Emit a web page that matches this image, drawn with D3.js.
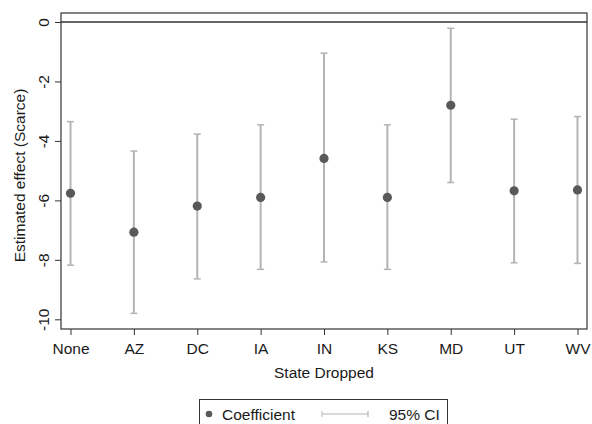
<!DOCTYPE html>
<html>
<head>
<meta charset="utf-8">
<script src="https://cdn.jsdelivr.net/npm/d3@7"></script>
<style>
  html, body { margin: 0; padding: 0; background: #fff; }
  svg { display: block; font-family: "Liberation Sans", Arial, sans-serif; }
</style>
</head>
<body>
<svg id="chart" width="592" height="424"></svg>
<script>
const categories = ["None", "AZ", "DC", "IA", "IN", "KS", "MD", "UT", "WV"];
const coefficients = [-5.76, -7.07, -6.19, -5.90, -4.59, -5.90, -2.80, -5.68, -5.65];
const ciLower = [-8.18, -9.80, -8.64, -8.32, -8.07, -8.32, -5.40, -8.10, -8.12];
const ciUpper = [-3.35, -4.34, -3.77, -3.46, -1.05, -3.46, -0.21, -3.27, -3.18];
const yTicks = [0, -2, -4, -6, -8, -10];

const data = categories.map((c, i) => ({ c, v: coefficients[i], lo: ciLower[i], hi: ciUpper[i] }));

const svg = d3.select("#chart");
const mLeft = 61, mRight = 587, mTop = 13, mBottom = 329;
const fs = "15.5px";

const x = d3.scalePoint().domain(categories).range([mLeft, mRight]).padding(0.15);
const y = d3.scaleLinear().domain([-10, 0]).range([319.3, 22]);

const pointColor = "#595959";
const ciColor = "#b4b4b4";
const frameColor = "#333";
const textColor = "#1a1a1a";

// frame
svg.append("rect").attr("x", mLeft).attr("y", mTop).attr("width", mRight - mLeft).attr("height", mBottom - mTop)
  .attr("fill", "none").attr("stroke", frameColor).attr("stroke-width", 1.2);

// zero line
svg.append("line").attr("x1", mLeft).attr("x2", mRight).attr("y1", y(0)).attr("y2", y(0))
  .attr("stroke", frameColor).attr("stroke-width", 1.5);

// y axis
const yAxis = svg.append("g").attr("transform", `translate(${mLeft},0)`)
  .call(d3.axisLeft(y).tickValues(yTicks).tickSize(6).tickPadding(0));
yAxis.select(".domain").remove();
yAxis.selectAll(".tick line").attr("stroke", frameColor);
yAxis.selectAll(".tick text").remove();
yAxis.selectAll(".tick").append("text")
  .attr("transform", "translate(-12,0) rotate(-90)")
  .attr("text-anchor", "middle")
  .attr("fill", textColor)
  .style("font-size", fs)
  .text(d => String(d));

// x axis
const xAxis = svg.append("g").attr("transform", `translate(0,${mBottom})`)
  .call(d3.axisBottom(x).tickSize(6).tickPadding(8));
xAxis.select(".domain").remove();
xAxis.selectAll(".tick line").attr("stroke", frameColor);
xAxis.selectAll(".tick text").attr("fill", textColor).style("font-size", fs)
  .style("font-family", "'Liberation Sans', Arial, sans-serif");

// axis titles
svg.append("text").attr("x", (mLeft + mRight) / 2).attr("y", 378).attr("text-anchor", "middle")
  .attr("fill", textColor).style("font-size", fs).text("State Dropped");
svg.append("text").attr("transform", `translate(25,175.5) rotate(-90)`)
  .attr("text-anchor", "middle").attr("fill", textColor).style("font-size", fs)
  .text("Estimated effect (Scarce)");

// CI bars
const capW = 7;
const g = svg.append("g");
const bars = g.selectAll("g.ci").data(data).join("g").attr("class", "ci");
bars.append("line").attr("x1", d => x(d.c)).attr("x2", d => x(d.c))
  .attr("y1", d => y(d.lo)).attr("y2", d => y(d.hi)).attr("stroke", ciColor).attr("stroke-width", 2);
bars.append("line").attr("x1", d => x(d.c) - capW / 2).attr("x2", d => x(d.c) + capW / 2)
  .attr("y1", d => y(d.lo)).attr("y2", d => y(d.lo)).attr("stroke", ciColor).attr("stroke-width", 1.5);
bars.append("line").attr("x1", d => x(d.c) - capW / 2).attr("x2", d => x(d.c) + capW / 2)
  .attr("y1", d => y(d.hi)).attr("y2", d => y(d.hi)).attr("stroke", ciColor).attr("stroke-width", 1.5);

// points
g.selectAll("circle.pt").data(data).join("circle").attr("class", "pt")
  .attr("cx", d => x(d.c)).attr("cy", d => y(d.v)).attr("r", 4.6).attr("fill", pointColor);

// legend
const lg = svg.append("g");
lg.append("rect").attr("x", 199.5).attr("y", 399.5).attr("width", 248).attr("height", 40)
  .attr("fill", "#fff").attr("stroke", frameColor).attr("stroke-width", 1);
lg.append("circle").attr("cx", 209).attr("cy", 414).attr("r", 3.3).attr("fill", pointColor);
lg.append("text").attr("x", 222).attr("y", 420).attr("fill", textColor).style("font-size", fs).text("Coefficient");
lg.append("line").attr("x1", 322).attr("x2", 368).attr("y1", 414).attr("y2", 414).attr("stroke", ciColor).attr("stroke-width", 1.2);
lg.append("line").attr("x1", 322).attr("x2", 322).attr("y1", 411).attr("y2", 417).attr("stroke", ciColor).attr("stroke-width", 1);
lg.append("line").attr("x1", 368).attr("x2", 368).attr("y1", 411).attr("y2", 417).attr("stroke", ciColor).attr("stroke-width", 1.2);
lg.append("text").attr("x", 389).attr("y", 420).attr("fill", textColor).style("font-size", fs).text("95% CI");
</script>
</body>
</html>
